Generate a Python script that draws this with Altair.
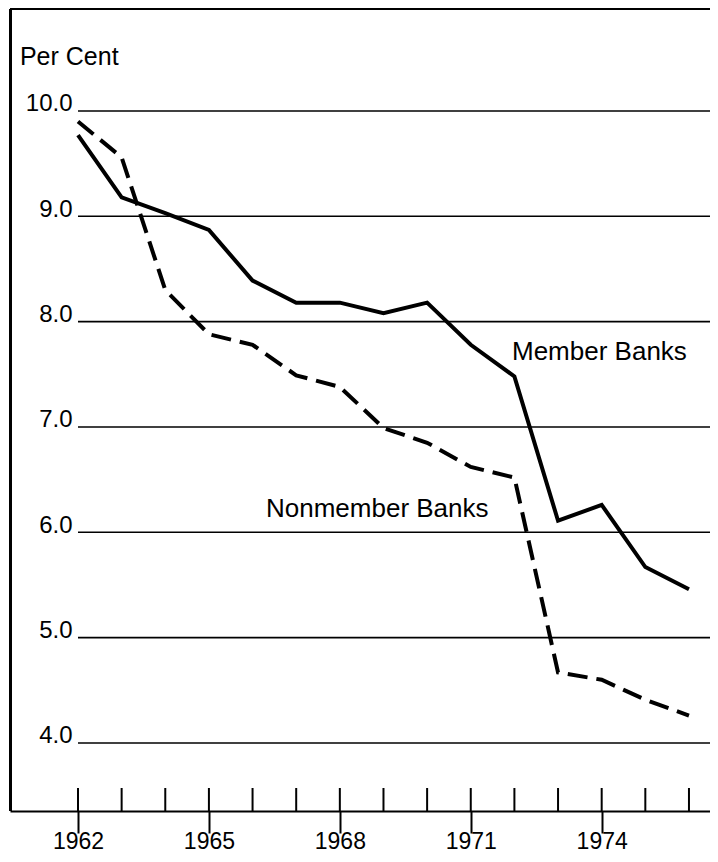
import altair as alt
import pandas as pd

years = list(range(1962, 1977))
member = [9.77, 9.18, 9.03, 8.87, 8.39, 8.18, 8.18, 8.08, 8.18, 7.78, 7.48, 6.11, 6.26, 5.67, 5.46]
nonmember = [9.90, 9.56, 8.30, 7.88, 7.78, 7.49, 7.38, 6.99, 6.85, 6.62, 6.52, 4.67, 4.60, 4.41, 4.26]
y_ticks = [4.0, 5.0, 6.0, 7.0, 8.0, 9.0, 10.0]
x_labels = [1962, 1965, 1968, 1971, 1974]
annotations = ["Per Cent", "Member Banks", "Nonmember Banks"]
ann_x = [1960.67, 1971.945, 1966.308]
ann_y = [10.437, 7.636, 6.148]
ann_size = [25, 26, 26]

FONT = "Liberation Sans"
W, H = 700, 802
xdom = [1960.442, 1976.482]
ydom = [3.354, 10.968]

df_m = pd.DataFrame({"year": years, "value": member})
df_n = pd.DataFrame({"year": years, "value": nonmember})
df_grid = pd.DataFrame({"value": y_ticks})
df_years = pd.DataFrame({"year": years})
df_ann = pd.DataFrame({"label": annotations, "x": ann_x, "y": ann_y, "size": ann_size})

xscale = alt.Scale(domain=xdom, nice=False, zero=False)
yscale = alt.Scale(domain=ydom, nice=False, zero=False)

x_axis = alt.Axis(values=x_labels, format="d", title=None, grid=False,
                  tickSize=22, tickWidth=2, tickColor="black",
                  domainColor="black", domainWidth=2,
                  labelFont=FONT, labelFontSize=23, labelColor="black",
                  labelBaseline="alphabetic", labelPadding=15)
y_axis = alt.Axis(values=y_ticks, format=".1f", title=None, grid=False,
                  orient="left", offset=-68, domain=False, ticks=False,
                  labelFont=FONT, labelFontSize=24, labelColor="black",
                  labelBaseline="alphabetic", labelPadding=6)

grid = alt.Chart(df_grid).mark_rule(color="black", strokeWidth=1.6).encode(
    x=alt.datum(1962, scale=xscale),
    x2=alt.value(W),
    y=alt.Y("value:Q", scale=yscale, axis=y_axis),
)

minor = alt.Chart(df_years).mark_rule(color="black", strokeWidth=2).encode(
    x=alt.X("year:Q", scale=xscale, axis=x_axis),
    y=alt.value(779),
    y2=alt.value(H),
)

left_border = alt.Chart(df_years).mark_rule(color="black", strokeWidth=1.6).encode(
    x=alt.value(0.5), y=alt.value(0), y2=alt.value(H)
)
top_border = alt.Chart(df_years).mark_rule(color="black", strokeWidth=2).encode(
    x=alt.value(0), x2=alt.value(W), y=alt.value(0)
)

line_m = alt.Chart(df_m).mark_line(color="black", strokeWidth=4, strokeJoin="miter").encode(
    x=alt.X("year:Q", scale=xscale),
    y=alt.Y("value:Q", scale=yscale),
)
line_n = alt.Chart(df_n).mark_line(color="black", strokeWidth=4, strokeDash=[20, 9],
                                   strokeJoin="miter").encode(
    x=alt.X("year:Q", scale=xscale),
    y=alt.Y("value:Q", scale=yscale),
)

text = alt.Chart(df_ann).mark_text(align="left", baseline="alphabetic", font=FONT,
                                   color="black").encode(
    x=alt.X("x:Q", scale=xscale),
    y=alt.Y("y:Q", scale=yscale),
    text="label:N",
    size=alt.Size("size:Q", scale=None, legend=None),
)

chart = alt.layer(grid, minor, left_border, top_border, line_m, line_n, text).properties(
    width=W, height=H,
    autosize=alt.AutoSizeParams(type="none"),
    padding={"left": 2, "top": 1, "right": 0, "bottom": 43},
    background="white",
).configure_view(stroke=None)

chart.save("out.html", embed_options={"renderer": "svg", "actions": False})
